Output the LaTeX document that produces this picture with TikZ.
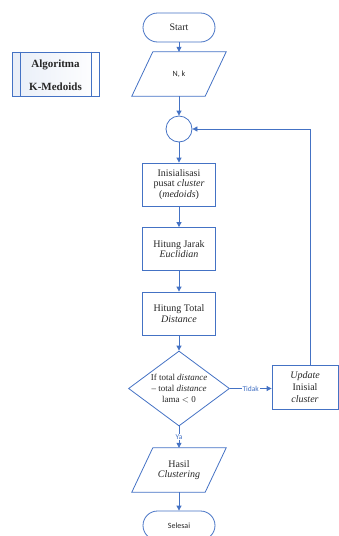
\documentclass[tikz,border=0pt]{standalone}
\usepackage{fontspec}
\setmainfont{Liberation Serif}
\newfontfamily\calib{Carlito}
\usetikzlibrary{shapes.geometric,arrows.meta}
\definecolor{lineblue}{HTML}{4472C4}
\definecolor{txt}{HTML}{262626}
\begin{document}
\begin{tikzpicture}[x=1pt,y=-1pt,
 ln/.style={draw=lineblue,line width=0.8pt},
 arr/.style={ln,-{Triangle[length=5pt,width=5pt]}},
 proc/.style={ln,rectangle,minimum width=73pt,minimum height=43pt,inner sep=0pt,align=center,text=txt,font=\fontsize{10}{10.5}\selectfont},
 term/.style={ln,rectangle,rounded corners=14.5pt,minimum width=72pt,minimum height=29pt,inner sep=0pt,text=txt},
 io/.style={rectangle,minimum width=73pt,minimum height=44pt,inner sep=0pt,align=center,text=txt},
 lbl/.style={text=lineblue,font=\calib\fontsize{7.5}{8}\selectfont,fill=white,inner sep=0.8pt}
]
\useasboundingbox (0,0) rectangle (338,536);
% title box
\node[draw=lineblue,line width=0.6pt,left color=lineblue!12,right color=white,minimum width=87pt,minimum height=44pt,inner sep=0pt] (title) at (55.5,74) {};
\draw[draw=lineblue,line width=0.6pt] ([xshift=9pt]title.north west) -- ([xshift=9pt]title.south west);
\draw[draw=lineblue,line width=0.6pt] ([xshift=-8pt]title.north east) -- ([xshift=-8pt]title.south east);
\node[font=\bfseries\fontsize{11}{23}\selectfont,align=center,text=txt] (titletext) at (55.5,75.5) {Algoritma\\K-Medoids};
% main flow
\node[term,font=\fontsize{10}{11}\selectfont] (start) at (179,27.5) {Start};
\node[io,font=\calib\fontsize{8}{9}\selectfont] (in) at (179,74) {N, k};
\draw[ln] ([xshift=10.5pt]in.north west) -- ([xshift=10.5pt]in.north east) -- ([xshift=-10.5pt]in.south east) -- ([xshift=-10.5pt]in.south west) -- cycle;
\node[ln,circle,minimum size=26pt,inner sep=0pt] (conn) at (179,129) {};
\node[proc] (init) at (179,184.5) {Inisialisasi\\pusat \textit{cluster}\\(\textit{medoids})};
\node[proc] (jarak) at (179,249) {Hitung Jarak\\\textit{Euclidian}};
\node[proc] (total) at (179,313.5) {Hitung Total\\\textit{Distance}};
\node[ln,diamond,minimum width=101pt,minimum height=75pt,inner sep=0pt] (dec) at (179,388.5) {};
\node[font=\fontsize{9}{10.8}\selectfont,align=center,text=txt] (dectext) at (179,388.5) {If total \textit{distance}\\-- total \textit{distance}\\lama $<$ 0};
\node[ln,rectangle,minimum width=66pt,minimum height=44pt,inner sep=0pt,font=\fontsize{10}{12.2}\selectfont,align=center,text=txt] (upd) at (305,387) {\textit{Update}\\Inisial\\\textit{cluster}};
\node[io,font=\fontsize{10}{10.5}\selectfont] (out) at (179,470) {Hasil\\\textit{Clustering}};
\draw[ln] ([xshift=10.5pt]out.north west) -- ([xshift=10.5pt]out.north east) -- ([xshift=-10.5pt]out.south east) -- ([xshift=-10.5pt]out.south west) -- cycle;
\node[term,font=\calib\fontsize{8}{9}\selectfont] (end) at (179,525.5) {Selesai};
\coordinate (fb) at (310,129);
% connectors
\draw[arr] (start) -- (in);
\draw[arr] (in) -- (conn);
\draw[arr] (conn) -- (init);
\draw[arr] (init) -- (jarak);
\draw[arr] (jarak) -- (total);
\draw[arr] (total) -- (dec);
\draw[arr] (dec.east) -- node[lbl]{Tidak} (dec.east -| upd.west);
\draw[arr] (dec.south) -- node[lbl]{Ya} (out.north);
\draw[arr] (out) -- (end);
\draw[arr] (upd.north -| fb) -- (fb) -- (conn.east);
\end{tikzpicture}
\end{document}
